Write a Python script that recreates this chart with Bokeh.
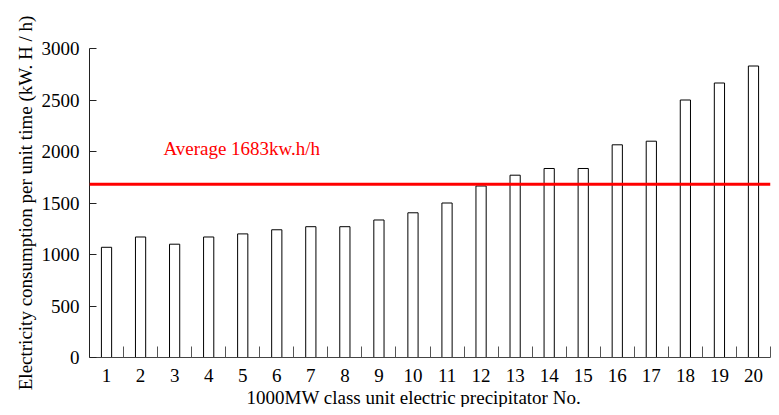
from bokeh.plotting import figure
from bokeh.models import Range1d, FixedTicker, Span, Label, Title
from bokeh.embed import file_html
from bokeh.resources import INLINE

units = list(range(1, 21))
consumption = [1070, 1170, 1100, 1170, 1200, 1240, 1270, 1270, 1335, 1405,
               1500, 1665, 1770, 1835, 1835, 2065, 2100, 2500, 2665, 2830]
average = 1683
y_ticks = [0, 500, 1000, 1500, 2000, 2500, 3000]
avg_text = "Average 1683kw.h/h"
x_title = "1000MW class unit electric precipitator No."
y_title = "Electricity consumption per unit time (kW. H / h)"

FONT = "Liberation Serif"

p = figure(width=771, height=407, output_backend="svg", toolbar_location=None,
           x_range=Range1d(0.5, 20.5), y_range=Range1d(0, 3000),
           min_border_left=89, min_border_right=1, min_border_top=48,
           min_border_bottom=0)
p.outline_line_color = None
p.xgrid.visible = False
p.ygrid.visible = False
p.background_fill_color = "white"
p.border_fill_color = "white"

p.vbar(x=units, top=consumption, width=0.3, bottom=0,
       fill_color="white", line_color="black", line_width=1)

p.add_layout(Span(location=average, dimension="width",
                  line_color="#ff0000", line_width=3))

p.add_layout(Label(x=2.67, y=2135, text=avg_text, text_color="#ff0000",
                   text_font=FONT, text_font_size="19px",
                   text_baseline="top"))

# x axis
p.xaxis.ticker = FixedTicker(ticks=units, minor_ticks=[u + 0.5 for u in units])
p.xaxis.major_tick_in = 0
p.xaxis.major_tick_out = 0
p.xaxis.minor_tick_in = 11
p.xaxis.minor_tick_out = 0
p.xaxis.minor_tick_line_color = "#555555"
p.xaxis.axis_line_color = "#444444"
p.xaxis.major_label_text_font = FONT
p.xaxis.major_label_text_font_size = "19px"
p.xaxis.major_label_text_color = "black"
p.xaxis.major_label_standoff = 11

# y axis
p.yaxis.ticker = FixedTicker(ticks=y_ticks)
p.yaxis.major_tick_in = 7
p.yaxis.major_tick_out = 0
p.yaxis.minor_tick_in = 0
p.yaxis.minor_tick_out = 0
p.yaxis.axis_line_color = "#222222"
p.yaxis.major_tick_line_color = "#222222"
p.yaxis.major_label_text_font = FONT
p.yaxis.major_label_text_font_size = "19px"
p.yaxis.major_label_text_color = "black"
p.yaxis.major_label_standoff = 10
p.yaxis.axis_label = y_title
p.yaxis.axis_label_text_font = FONT
p.yaxis.axis_label_text_font_size = "19px"
p.yaxis.axis_label_text_font_style = "normal"
p.yaxis.axis_label_text_color = "black"
p.yaxis.axis_label_standoff = 3

p.add_layout(Title(text=x_title, align="left", offset=157, standoff=0,
                   text_font=FONT, text_font_size="19px",
                   text_font_style="normal", text_color="black"), "below")

open("out.html", "w").write(file_html(p, INLINE))
